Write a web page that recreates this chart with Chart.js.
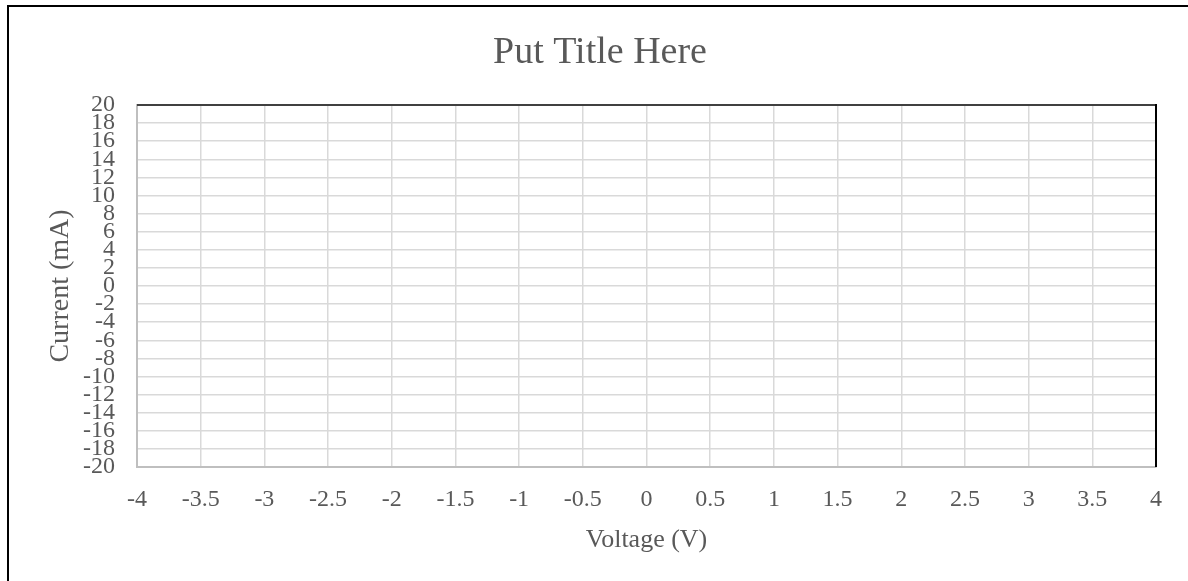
<!DOCTYPE html>
<html>
<head>
<meta charset="utf-8">
<script src="https://cdn.jsdelivr.net/npm/chart.js@4.4.1/dist/chart.umd.min.js"></script>
<style>
    html, body { margin: 0; padding: 0; background: #fff; overflow: hidden; }
    #frame {
        position: absolute; left: 7px; top: 5px;
        width: 1200px; height: 600px;
        border: 2px solid #000;
    }
    #wrap { position: absolute; left: 0; top: 0; width: 1188px; height: 581px; }
</style>
</head>
<body>
<div id="frame"></div>
<div id="wrap"><canvas id="ivChart"></canvas></div>
<script>
// empty I-V chart template: no measured points yet
const seriesPoints = [];
const xTicks = [-4, -3.5, -3, -2.5, -2, -1.5, -1, -0.5, 0, 0.5, 1, 1.5, 2, 2.5, 3, 3.5, 4];
const yTicks = [-20, -18, -16, -14, -12, -10, -8, -6, -4, -2, 0, 2, 4, 6, 8, 10, 12, 14, 16, 18, 20];

const textColor = '#595959';
const serif = "'Liberation Serif', 'DejaVu Serif', serif";

const plotFrame = {
    id: 'plotFrame',
    afterDraw: function (chart) {
        const a = chart.chartArea;
        const ctx = chart.ctx;
        ctx.save();
        ctx.lineWidth = 2;
        ctx.strokeStyle = '#404040';
        ctx.beginPath();
        ctx.moveTo(a.left, a.top);
        ctx.lineTo(a.right, a.top);
        ctx.stroke();
        ctx.strokeStyle = '#000';
        ctx.beginPath();
        ctx.moveTo(a.right, a.top - 1);
        ctx.lineTo(a.right, a.bottom);
        ctx.stroke();
        ctx.restore();
    }
};

const ctx = document.getElementById('ivChart');
new Chart(ctx, {
    type: 'scatter',
    data: {
        datasets: [
            {
                label: 'Current',
                data: seriesPoints,
                borderColor: '#4472c4',
                backgroundColor: '#4472c4'
            }
        ]
    },
    options: {
        responsive: true,
        maintainAspectRatio: false,
        animation: false,
        layout: { padding: { left: 44, right: 32, top: 0, bottom: 0 } },
        plugins: {
            legend: { display: false },
            tooltip: { enabled: false },
            title: {
                display: true,
                text: 'Put Title Here',
                color: textColor,
                font: { family: serif, size: 38, weight: 'normal' },
                padding: { top: 30, bottom: 29.4 }
            }
        },
        scales: {
            x: {
                type: 'linear',
                min: -4,
                max: 4,
                afterBuildTicks: function (scale) {
                    scale.ticks = xTicks.map(v => ({ value: v }));
                },
                afterFit: function (scale) {
                    scale.height = 581 - 467;
                },
                ticks: {
                    color: textColor,
                    font: { family: serif, size: 24 },
                    padding: 18,
                    maxRotation: 0,
                    autoSkip: false,
                    callback: v => String(v)
                },
                grid: { color: '#d9d9d9', lineWidth: 1.5, drawTicks: false },
                border: { color: '#bfbfbf', width: 2 },
                title: {
                    display: true,
                    text: 'Voltage (V)',
                    color: textColor,
                    font: { family: serif, size: 26 },
                    padding: { top: 0, bottom: 25 }
                }
            },
            y: {
                type: 'linear',
                min: -20,
                max: 20,
                afterBuildTicks: function (scale) {
                    scale.ticks = yTicks.map(v => ({ value: v }));
                },
                afterFit: function (scale) {
                    scale.width = 137 - 44;
                },
                ticks: {
                    color: textColor,
                    font: { family: serif, size: 24, lineHeight: 1 },
                    padding: 22,
                    autoSkip: false,
                    callback: v => String(v)
                },
                grid: { color: '#d9d9d9', lineWidth: 1.5, drawTicks: false },
                border: { color: '#bfbfbf', width: 2 },
                title: {
                    display: true,
                    text: 'Current (mA)',
                    color: textColor,
                    font: { family: serif, size: 28 },
                    padding: { top: 0, bottom: 0 }
                }
            }
        }
    },
    plugins: [plotFrame]
});
</script>
</body>
</html>
